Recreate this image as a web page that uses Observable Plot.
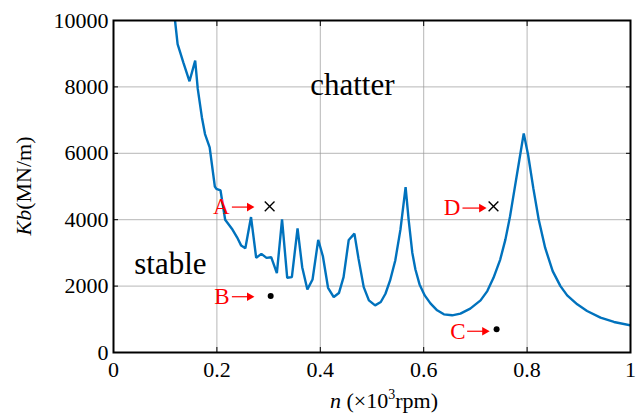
<!DOCTYPE html>
<html><head><meta charset="utf-8">
<script src="https://cdn.jsdelivr.net/npm/d3@7"></script>
<script src="https://cdn.jsdelivr.net/npm/@observablehq/plot@0.6"></script>
<style>
body{margin:0;background:#fff}
svg{font-family:"Liberation Serif","Times New Roman",serif}
</style>
</head><body><div id="chart"></div>
<script>
// Stability lobe boundary (n in 10^3 rpm, Kb in MN/m)
const curveN = [0.119,0.124,0.129,0.135,0.147,0.158,0.163,0.171,0.177,0.186,0.196,0.199,0.207,0.216,0.229,0.239,0.247,0.255,0.266,0.276,0.286,0.296,0.305,0.316,0.326,0.336,0.345,0.356,0.365,0.375,0.385,0.396,0.405,0.415,0.426,0.436,0.445,0.455,0.466,0.474,0.484,0.494,0.506,0.517,0.526,0.535,0.545,0.555,0.565,0.571,0.578,0.584,0.592,0.602,0.613,0.626,0.639,0.655,0.671,0.690,0.710,0.723,0.735,0.748,0.758,0.767,0.776,0.785,0.7935,0.802,0.812,0.8225,0.835,0.8495,0.8645,0.8775,0.897,0.916,0.942,0.968,1.0];
const curveKb = [10000,9290,9040,8740,8170,8790,7940,7080,6580,6180,5000,4930,4880,4000,3730,3470,3220,3140,4080,2850,2970,2850,2870,2390,4010,2250,2270,3740,2570,1900,2200,3390,2900,1950,1670,1790,2270,3390,3580,2820,1970,1570,1420,1520,1770,2170,2770,3700,4980,3980,3000,2500,2050,1720,1480,1270,1150,1120,1170,1320,1570,1850,2250,2800,3400,4100,4950,5800,6600,5950,4950,4000,3150,2450,2000,1720,1450,1250,1050,920,820];

// Test points
const pointNames = ["A","B","C","D"];
const pointN = [0.302,0.304,0.741,0.735];
const pointKb = [4400,1700,700,4400];
const pointSymbol = ["times","circle","circle","times"];
// Annotation letters and arrows (pointing at each test point)
const letterN = [0.2245,0.2245,0.681,0.671];
const letterKb = [4380,1680,640,4350];
const arrowFromN = [0.229,0.229,0.684,0.675];
const arrowToN = [0.268,0.268,0.723,0.717];

// Region labels
const regionNames = ["chatter","stable"];
const regionN = [0.462,0.11];
const regionKb = [8040,2650];

const xTicks = [0,0.2,0.4,0.6,0.8,1];
const yTicks = [0,2000,4000,6000,8000,10000];

const curve = curveN.map((n,i)=>({n, kb: curveKb[i]}));
const points = pointNames.map((name,i)=>({name, n: pointN[i], kb: pointKb[i], sym: pointSymbol[i],
  ln: letterN[i], lkb: letterKb[i], a1: arrowFromN[i], a2: arrowToN[i]}));
const regions = regionNames.map((name,i)=>({name, n: regionN[i], kb: regionKb[i]}));

const W = 638, H = 416;
const fontFamily = '"Liberation Serif","Times New Roman",serif';
const blank = () => "";
const red = "#ff0000";

const chart = Plot.plot({
  width: W, height: H,
  marginLeft: 113, marginRight: 8, marginTop: 20, marginBottom: 64,
  style: {fontFamily, fontSize: "22px", color: "#000", background: "#fff"},
  x: {domain: [0,1], ticks: xTicks, label: null},
  y: {domain: [0,10000], ticks: yTicks, label: null},
  marks: [
    Plot.gridX(xTicks, {stroke: "#999", strokeOpacity: 0.7, strokeWidth: 1}),
    Plot.gridY(yTicks, {stroke: "#999", strokeOpacity: 0.7, strokeWidth: 1}),
    Plot.axisX(xTicks, {anchor: "bottom", tickSize: -5, tickPadding: 14, fontSize: 22, tickFormat: d => String(d), label: null}),
    Plot.axisY(yTicks, {anchor: "left", tickSize: -5, tickPadding: 10, fontSize: 22, tickFormat: d => String(d), label: null}),
    Plot.axisX(xTicks, {anchor: "top", tickSize: -5, tickFormat: blank, label: null}),
    Plot.axisY(yTicks, {anchor: "right", tickSize: -5, tickFormat: blank, label: null}),
    Plot.line(curve, {x: "n", y: "kb", stroke: "#0072BD", strokeWidth: 2.4, clip: true, strokeLinejoin: "miter"}),
    Plot.dot(points.filter(d => d.sym === "times"), {x: "n", y: "kb", symbol: "times", r: 4.5, stroke: "#000", strokeWidth: 1.4}),
    Plot.dot(points.filter(d => d.sym === "circle"), {x: "n", y: "kb", r: 3, fill: "#000", stroke: "none"}),
    Plot.text(points, {x: "ln", y: "lkb", text: "name", fill: red, fontSize: 23, textAnchor: "end"}),
    Plot.link(points, {x1: "a1", x2: d => d.a2 - 0.008, y1: "lkb", y2: "lkb", stroke: red, strokeWidth: 1.2}),
    Plot.dot(points, {x: d => d.a2 - 0.005, y: "lkb", symbol: "triangle", rotate: 90, r: 3.2, fill: red, stroke: "none"}),
    Plot.text(regions, {x: "n", y: "kb", text: "name", fill: "#000", fontSize: 31}),
    Plot.frame({stroke: "#000", strokeWidth: 2})
  ]
});

const svg = d3.select(chart);
// y-axis label with italic Kb
const yl = svg.append("text")
  .attr("transform", "translate(31,186) rotate(-90)")
  .attr("text-anchor", "middle")
  .attr("font-size", 22)
  .attr("fill", "#000");
yl.append("tspan").attr("font-style", "italic").text("Kb");
yl.append("tspan").text("(MN/m)");
// x-axis label with italic n and superscript 3
const xl = svg.append("text")
  .attr("x", 384).attr("y", 408)
  .attr("text-anchor", "middle")
  .attr("font-size", 22)
  .attr("fill", "#000");
xl.append("tspan").attr("font-style", "italic").text("n");
xl.append("tspan").text(" (\u00d710");
xl.append("tspan").attr("font-size", 14).attr("dy", -9).text("3");
xl.append("tspan").attr("dy", 9).text("rpm)");

document.getElementById("chart").append(chart);
</script>
</body></html>
